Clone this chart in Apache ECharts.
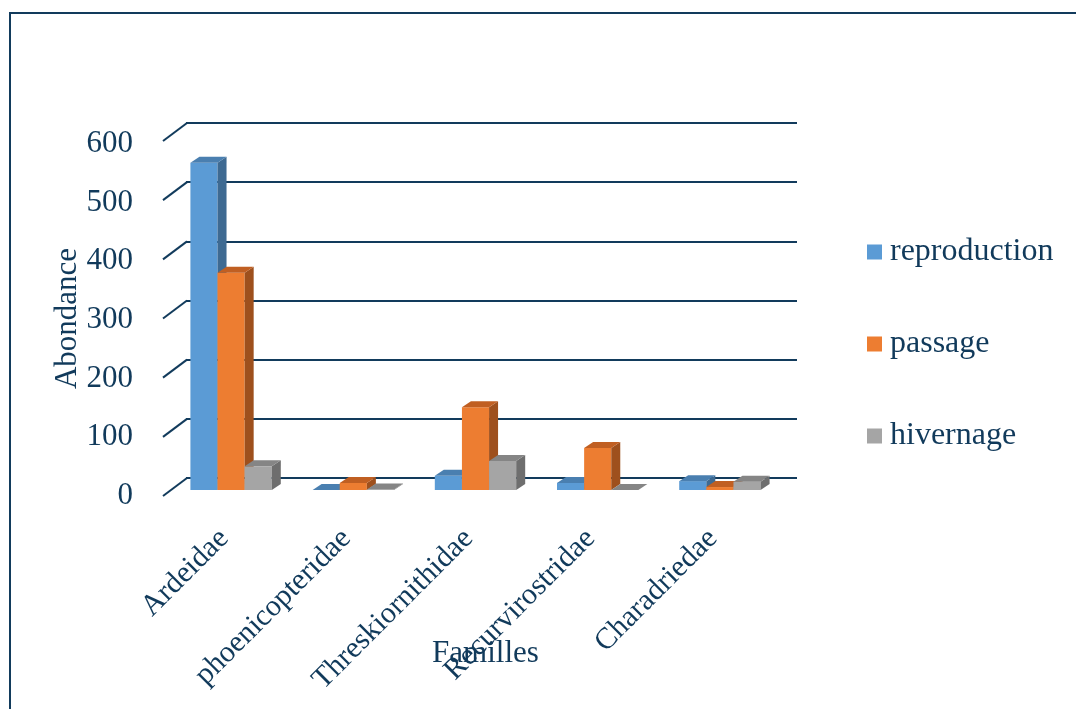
<!DOCTYPE html>
<html>
<head>
<meta charset="utf-8">
<script src="https://cdn.jsdelivr.net/npm/echarts@6/dist/echarts.min.js"></script>
<style>
html,body{margin:0;padding:0;background:#fff;}
#chart{width:1076px;height:709px;}
</style>
</head>
<body>
<div id="chart"></div>
<script>
const categories = ['Ardeidae', 'phoenicopteridae', 'Threskiornithidae', 'Recurvirostridae', 'Charadriedae'];
const reproduction = [553, 0, 24, 12, 15];
const passage = [367, 12, 140, 71, 5];
const hivernage = [40, 1, 49, 0, 14];
const seriesNames = ['reproduction', 'passage', 'hivernage'];
const yTicks = [0, 100, 200, 300, 400, 500, 600];

const TXT = '#113a5b';
const GRID = '#123b5c';
const FONT = 'Liberation Serif';
const faces = [
  {front: '#5b9bd5', side: '#3e6a92', top: '#4a7fb0'},
  {front: '#ed7d31', side: '#9e501d', top: '#c05f22'},
  {front: '#a5a5a5', side: '#6e6e6e', top: '#858585'}
];
// 3D projection offsets (pixels)
const DX = -16, DY = 12;         // bar front plane relative to back wall
const DEPTH_X = 9, DEPTH_Y = -6; // bar depth
const FX = -23, FY = 18;         // floor front edge relative to back wall

function barRender(sIdx) {
  return function (params, api) {
    const ci = api.value(0), v = api.value(1);
    const top = api.coord([ci, v]);
    const base = api.coord([ci, 0]);
    const band = api.size([1, 0])[0];
    const w = band * 0.222;
    const cx = top[0] + (sIdx - 1) * w + DX;
    const x0 = cx - w / 2, x1 = cx + w / 2;
    const yt = top[1] + DY, yb = base[1] + DY;
    const f = faces[sIdx];
    return {
      type: 'group',
      children: [
        {type: 'rect', shape: {x: x0, y: yt, width: w, height: yb - yt}, style: {fill: f.front}},
        {type: 'polygon', shape: {points: [[x1, yt], [x1 + DEPTH_X, yt + DEPTH_Y], [x1 + DEPTH_X, yb + DEPTH_Y], [x1, yb]]}, style: {fill: f.side}},
        {type: 'polygon', shape: {points: [[x0, yt], [x0 + DEPTH_X, yt + DEPTH_Y], [x1 + DEPTH_X, yt + DEPTH_Y], [x1, yt]]}, style: {fill: f.top}}
      ]
    };
  };
}

const chart = echarts.init(document.getElementById('chart'), null, {renderer: 'canvas'});
const allData = [reproduction, passage, hivernage];

const option = {
  animation: false,
  backgroundColor: '#ffffff',
  textStyle: {fontFamily: FONT},
  graphic: [{
    type: 'rect', z: 100,
    shape: {x: 10, y: 13, width: 1200, height: 800},
    style: {fill: 'none', stroke: GRID, lineWidth: 2}
  }],
  legend: {
    orient: 'vertical',
    left: 867, top: 236,
    padding: 0,
    itemWidth: 15, itemHeight: 15,
    itemGap: 60,
    icon: 'rect',
    data: seriesNames,
    textStyle: {fontFamily: FONT, fontSize: 32, color: TXT, padding: [4, 0, 0, 3]}
  },
  grid: [
    {left: 186, right: 279, top: 123, bottom: 231},   // back wall
    {left: 163, right: 302, top: 144, bottom: 213},   // front plane (y labels)
    {left: 163, right: 302, top: 141, bottom: 213}    // front plane (x labels, y name)
  ],
  xAxis: [
    {gridIndex: 0, type: 'category', data: categories,
     axisLine: {show: false}, axisTick: {show: false}, axisLabel: {show: false},
     name: 'Familles', nameLocation: 'middle', nameGap: 160,
     nameTextStyle: {fontFamily: FONT, fontSize: 31, color: TXT, padding: [0, 12, 0, 0]}},
    {gridIndex: 1, type: 'category', data: categories, show: false},
    {gridIndex: 2, type: 'category', data: categories,
     axisLine: {show: false}, axisTick: {show: false},
     axisLabel: {rotate: 45, margin: 38, fontFamily: FONT, fontSize: 30, color: TXT, interval: 0}}
  ],
  yAxis: [
    {gridIndex: 0, type: 'value', min: 0, max: 600, interval: 100,
     axisLine: {show: false}, axisTick: {show: false}, axisLabel: {show: false},
     splitLine: {lineStyle: {color: GRID, width: 2}}},
    {gridIndex: 1, type: 'value', min: 0, max: 600, interval: 100,
     axisLine: {show: false}, axisTick: {show: false}, splitLine: {show: false},
     axisLabel: {margin: 30, fontFamily: FONT, fontSize: 31, color: TXT}},
    {gridIndex: 2, type: 'value', min: 0, max: 600, interval: 100,
     axisLine: {show: false}, axisTick: {show: false}, splitLine: {show: false},
     axisLabel: {show: false},
     name: 'Abondance', nameLocation: 'middle', nameGap: 80, nameRotate: 90,
     nameTextStyle: {fontFamily: FONT, fontSize: 31, color: TXT}}
  ],
  series: [
    ...seriesNames.map((name, i) => ({
      name, type: 'custom', xAxisIndex: 0, yAxisIndex: 0,
      itemStyle: {color: faces[i].front},
      renderItem: barRender(i),
      data: allData[i].map((v, ci) => [ci, v]),
      z: 3 + i
    })),
    {
      name: 'floorTicks', type: 'custom', xAxisIndex: 0, yAxisIndex: 0,
      silent: true, z: 2,
      renderItem: function (params, api) {
        const p = api.coord([0, api.value(1)]);
        const x = params.coordSys.x;
        return {type: 'line', shape: {x1: x + 1, y1: p[1], x2: x + FX, y2: p[1] + FY},
                style: {stroke: GRID, lineWidth: 2}};
      },
      data: yTicks.map(t => [0, t])
    }
  ]
};
chart.setOption(option);
</script>
</body>
</html>
